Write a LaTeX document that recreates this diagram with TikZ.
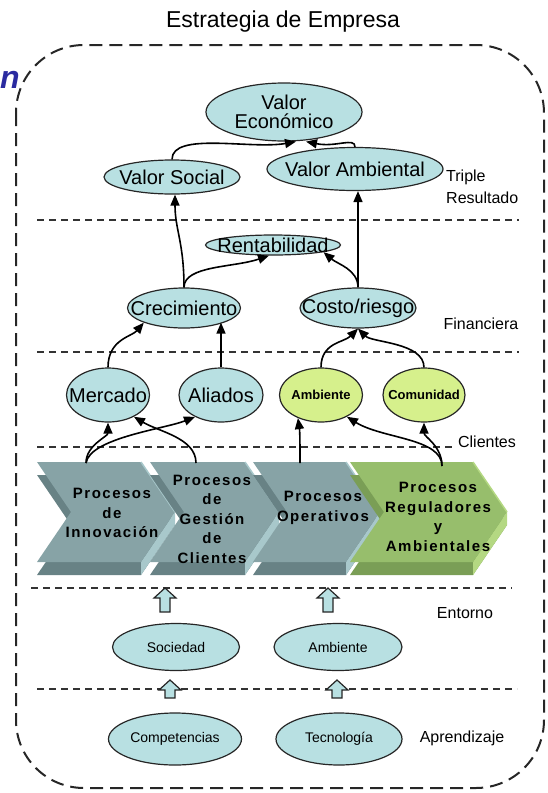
\documentclass[tikz,border=0pt]{standalone}
\usepackage{fontspec}
\setmainfont{Liberation Sans}
\newfontfamily\chevfont[LetterSpace=10]{Liberation Sans}
\usetikzlibrary{positioning,arrows.meta,shapes.geometric,calc}
\definecolor{bscCyan}{RGB}{184,224,226}
\definecolor{bscGreen}{RGB}{214,240,140}
\definecolor{bscBlue}{RGB}{43,43,160}
\definecolor{bscFace}{RGB}{135,163,166}
\definecolor{bscLight}{RGB}{168,200,203}
\definecolor{bscDark}{RGB}{104,130,133}
\definecolor{bscFaceG}{RGB}{151,190,108}
\definecolor{bscLightG}{RGB}{180,216,130}
\definecolor{bscDarkG}{RGB}{122,158,86}
\tikzset{
  bsc/ell/.style={ellipse, draw=black!85, line width=1.2pt, fill=bscCyan, inner sep=0pt},
  bsc/green/.style={bsc/ell, fill=bscGreen},
  bsc/txt/.style={inner sep=0pt, align=center, font=\fontsize{20}{22}\selectfont},
  bsc/smalltxt/.style={bsc/txt, font=\fontsize{14}{16}\selectfont},
  bsc/greentxt/.style={bsc/txt, font=\fontsize{13}{15}\selectfont\bfseries},
  bsc/lbl/.style={font=\fontsize{16}{22}\selectfont, inner sep=0pt, align=left},
  bsc/chev/.style={font=\chevfont\fontsize{15}{19.5}\selectfont\bfseries, align=center, inner sep=0pt},
  bsc/arrow/.style={-{Triangle[length=11pt,width=9pt]}, line width=1.6pt, black},
  bsc/sep/.style={dash pattern=on 7pt off 5pt, line width=1.1pt, black!80},
  bsc/frame/.style={dash pattern=on 13pt off 7pt, line width=2pt, black!85, rounded corners=68pt},
  bsc/block/.style={draw=black!85, line width=1.2pt, fill=bscCyan},
}
% chevron: left x, right x, face, light, dark
\newcommand{\bscchev}[5]{%
  \fill[#5] (#1,475) -- (#2,475) -- (#2+34,525) -- (#2,575) -- (#1,575) -- (#1+34,525) -- cycle;
  \fill[#4] (#2+34,512) -- (#2+34,525) -- (#2,575) -- (#2,562) -- cycle;
  \fill[#3] (#1,462) -- (#2,462) -- (#2+34,512) -- (#2,562) -- (#1,562) -- (#1+34,512) -- cycle;
  \draw[#4, line width=1.5pt] (#2,462) -- (#2+34,512);
}
% block arrow pointing up: x, top y, bottom y
\newcommand{\bscup}[3]{%
  \draw[bsc/block] (#1,#2) -- (#1+11,#2+10) -- (#1+5,#2+10) -- (#1+5,#3) -- (#1-5,#3)
    -- (#1-5,#2+10) -- (#1-11,#2+10) -- cycle;
}

\begin{document}
\begin{tikzpicture}[x=1pt, y=-1pt]
  \useasboundingbox (0,0) rectangle (548,793);

  \node[font=\fontsize{23}{26}\selectfont] (title) at (283,22) {Estrategia de Empresa};
  \node[font=\fontsize{32}{32}\selectfont\bfseries\itshape, text=bscBlue, anchor=base west,
        inner sep=0pt] (cut) at (0,88) {n};

  % ---------------- frame and bands ----------------
  \draw[bsc/frame] (16,45) rectangle (544,788);
  \draw[bsc/sep] (37,220) -- (519,220);
  \draw[bsc/sep] (37,352) -- (519,352);
  \draw[bsc/sep] (37,447) -- (456,447);
  \draw[bsc/sep] (31,588) -- (512,588);
  \draw[bsc/sep] (37,689) -- (517,689);

  % ---------------- processes ----------------
  \bscchev{37}{141}{bscFace}{bscLight}{bscDark}
  \bscchev{150}{245}{bscFace}{bscLight}{bscDark}
  \bscchev{253}{346}{bscFace}{bscLight}{bscDark}
  \bscchev{350}{473}{bscFaceG}{bscLightG}{bscDarkG}
  \node[bsc/chev] (inno) at (112,513) {Procesos\\de\\Innovación};
  \node[bsc/chev] (gest) at (212,519) {Procesos\\de\\Gestión\\de\\Clientes};
  \node[bsc/chev] (oper) at (323,508) {Procesos\\Operativos};
  \node[bsc/chev] (regu) at (438,517) {Procesos\\Reguladores\\y\\Ambientales};
  \coordinate (innotop) at (86,463);
  \coordinate (gesttop) at (196,463);
  \coordinate (opertop) at (300,463);
  \coordinate (regutop) at (442,466);

  % ---------------- objectives ----------------
  % text sits in a centre label so the ellipse keeps its own size
  \node[bsc/ell, minimum width=156pt, minimum height=58pt,
        label={[bsc/txt, font=\fontsize{20}{19}\selectfont]center:Valor\\Económico}] (ve) at (284,112) {};
  \node[bsc/ell, minimum width=136pt, minimum height=34pt,
        label={[bsc/txt]center:Valor Social}] (vsoc) at (172,177) {};
  \node[bsc/ell, minimum width=176pt, minimum height=43pt,
        label={[bsc/txt]center:Valor Ambiental}] (vamb) at (355,169) {};
  \node[bsc/ell, minimum width=135pt, minimum height=20pt,
        label={[bsc/txt]center:Rentabilidad}] (rent) at (273,245) {};
  \node[bsc/ell, minimum width=113pt, minimum height=40pt,
        label={[bsc/txt]center:Crecimiento}] (crec) at (184,308) {};
  \node[bsc/ell, minimum width=116pt, minimum height=40pt,
        label={[bsc/txt]center:Costo/riesgo}] (cost) at (358,308) {};
  \node[bsc/ell, minimum width=83pt, minimum height=54pt,
        label={[bsc/txt]center:Mercado}] (merc) at (108,395) {};
  \node[bsc/ell, minimum width=84pt, minimum height=54pt,
        label={[bsc/txt]center:Aliados}] (ali) at (221,395) {};
  \node[bsc/green, minimum width=83pt, minimum height=54pt,
        label={[bsc/greentxt]center:Ambiente}] (amb) at (321,395) {};
  \node[bsc/green, minimum width=82pt, minimum height=54pt,
        label={[bsc/greentxt]center:Comunidad}] (com) at (424,395) {};
  \node[bsc/ell, minimum width=127pt, minimum height=47pt,
        label={[bsc/smalltxt]center:Sociedad}] (soc) at (176,647) {};
  \node[bsc/ell, minimum width=128pt, minimum height=47pt,
        label={[bsc/smalltxt]center:Ambiente}] (ambb) at (338,647) {};
  \node[bsc/ell, minimum width=133pt, minimum height=52pt,
        label={[bsc/smalltxt]center:Competencias}] (comp) at (175,739) {};
  \node[bsc/ell, minimum width=126pt, minimum height=52pt,
        label={[bsc/smalltxt]center:Tecnología}] (tec) at (339,739) {};

  % ---------------- links ----------------
  \draw[bsc/arrow] (vsoc.north) .. controls +(0,-28) and +(-45,8) .. ([xshift=12pt]ve.south);
  \draw[bsc/arrow] (vamb.north) .. controls +(0,-10) and +(30,6) .. ([xshift=22pt]ve.south);
  \draw[bsc/arrow] (crec.north) .. controls +(0,-45) and +(0,35) .. ([xshift=3pt]vsoc.south);
  \draw[bsc/arrow] (cost.north) -- (cost.north |- vamb.south);
  \draw[bsc/arrow] (crec.north) .. controls +(0,-22) and +(-35,12) .. ([xshift=-4pt]rent.south);
  \draw[bsc/arrow] (cost.north) .. controls +(0,-18) and +(14,12) .. (rent.-8);
  \draw[bsc/arrow] (merc.north) .. controls +(0,-28) and +(-12,14) .. (crec.200);
  \draw[bsc/arrow] (ali.north) -- (ali.north |- crec.-20);
  \draw[bsc/arrow] (amb.north) .. controls +(0,-25) and +(-14,14) .. (cost.south);
  \draw[bsc/arrow] (com.north) .. controls +(0,-25) and +(14,14) .. (cost.south);

  \draw[bsc/arrow] (innotop) .. controls +(0,-18) and +(0,14) .. (merc.south);
  \draw[bsc/arrow] (innotop) .. controls +(4,-25) and +(-30,12) .. (ali.220);
  \draw[bsc/arrow] (gesttop) .. controls +(0,-25) and +(25,15) .. (merc.-40);
  \draw[bsc/arrow] (opertop) .. controls +(0,-20) and +(2,14) .. (amb.225);
  \draw[bsc/arrow] (regutop) .. controls +(0,-28) and +(35,22) .. (amb.-40);
  \draw[bsc/arrow] (regutop) .. controls +(0,-20) and +(0,14) .. (com.south);

  \bscup{165}{588}{612}
  \bscup{328}{588}{612}
  \bscup{170}{680}{698}
  \bscup{337}{680}{698}

  % ---------------- perspectives ----------------
  \node[bsc/lbl, anchor=west] (triple) at (446,187) {Triple\\Resultado};
  \node[bsc/lbl] (fin) at (481,324) {Financiera};
  \node[bsc/lbl] (cli) at (487,442) {Clientes};
  \node[bsc/lbl] (ent) at (465,613) {Entorno};
  \node[bsc/lbl] (apr) at (462,738) {Aprendizaje};

\end{tikzpicture}
\end{document}
